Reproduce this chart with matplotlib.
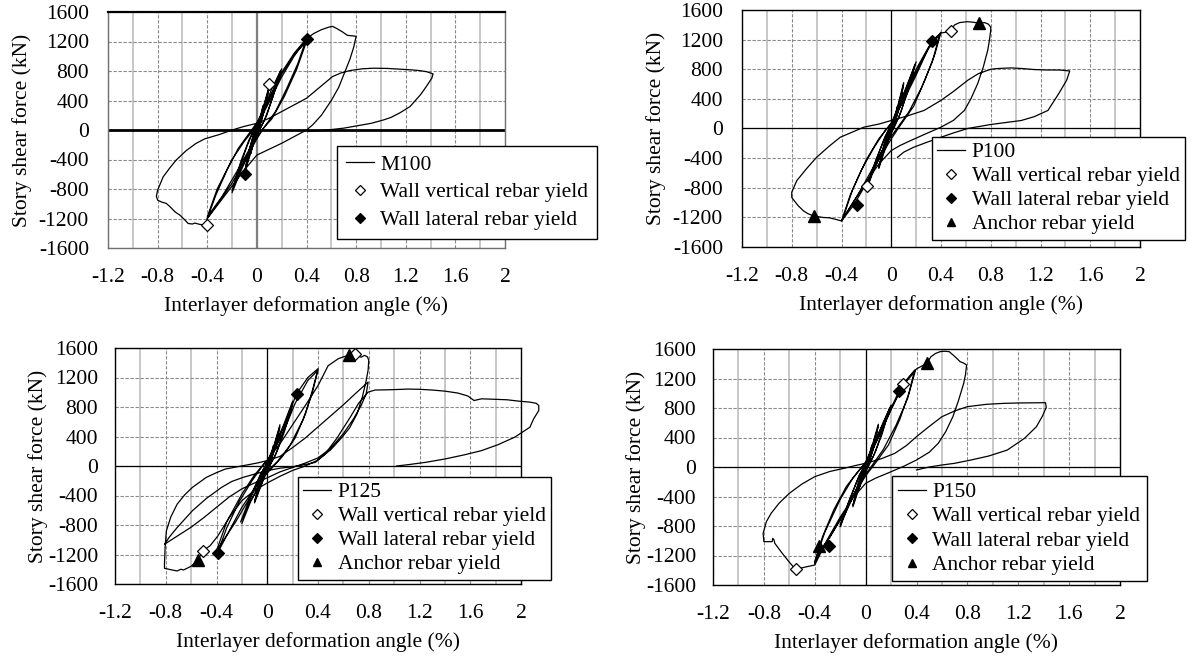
import matplotlib
matplotlib.use("Agg")
import matplotlib.pyplot as plt

plt.rcParams['font.family'] = ['Liberation Serif', 'DejaVu Serif']
plt.rcParams['axes.unicode_minus'] = False
FS = 15.5

# ---------------- data ----------------
x_ticks = [-1.2, -0.8, -0.4, 0, 0.4, 0.8, 1.2, 1.6, 2]
x_tick_labels = ["-1.2", "-0.8", "-0.4", "0", "0.4", "0.8", "1.2", "1.6", "2"]
x_minor = [-1.0, -0.6, -0.2, 0.2, 0.6, 1.0, 1.4, 1.8]
y_ticks = [-1600, -1200, -800, -400, 0, 400, 800, 1200, 1600]
y_tick_labels = ["-1600", "-1200", "-800", "-400", "0", "400", "800", "1200", "1600"]

labels = ["Wall vertical rebar yield", "Wall lateral rebar yield", "Anchor rebar yield"]
xlabel = "Interlayer deformation angle (%)"
ylabel = "Story shear force (kN)"

m100_curve = [
(0,0),(0.03,200),(0.05,330),(0.03,150),(0.01,40),(-0.02,-120),(-0.05,-320),(-0.03,-150),(-0.01,-30),
(0.03,180),(0.07,420),(0.10,600),(0.07,330),(0.03,90),(-0.02,-150),(-0.07,-420),(-0.10,-600),(-0.07,-320),(-0.03,-80),
(0.03,160),(0.07,400),(0.10,580),(0.06,260),(0.02,40),(-0.03,-190),(-0.07,-400),(-0.10,-580),(-0.06,-260),(-0.02,-30),
(0.05,250),(0.12,560),(0.20,830),(0.15,560),(0.08,200),(0.02,-10),(-0.06,-300),(-0.13,-560),(-0.20,-850),(-0.15,-560),(-0.08,-220),(-0.02,20),
(0.06,280),(0.13,540),(0.19,800),(0.13,450),(0.06,130),(0.00,-60),(-0.07,-320),(-0.14,-560),(-0.20,-820),(-0.13,-430),(-0.06,-120),(0.00,60),
(0.10,420),(0.20,780),(0.30,1040),(0.40,1240),(0.33,900),(0.24,560),(0.15,250),(0.06,40),(0.00,-120),(-0.10,-420),(-0.20,-720),(-0.30,-960),(-0.40,-1200),(-0.33,-880),(-0.24,-540),(-0.15,-250),(-0.06,-40),(0.00,100),
(0.10,420),(0.20,760),(0.30,1020),(0.40,1200),(0.32,820),(0.22,450),(0.12,150),(0.04,0),(-0.06,-260),(-0.16,-560),(-0.28,-900),(-0.40,-1180),(-0.32,-800),(-0.20,-400),(-0.10,-150),(0.00,60),
(0.10,380),(0.20,720),(0.30,1000),(0.40,1240),(0.46,1310),(0.52,1360),(0.58,1395),(0.61,1405),(0.64,1380),(0.66,1360),(0.69,1330),(0.73,1283),(0.78,1275),(0.80,1270),
(0.78,1120),(0.75,960),(0.71,790),(0.66,580),(0.60,400),(0.52,200),(0.45,70),(0.40,0),(0.30,-90),(0.20,-180),(0.10,-260),(0.00,-340),(-0.10,-540),(-0.20,-760),(-0.30,-980),(-0.40,-1200),(-0.41,-1290),
(-0.46,-1280),(-0.50,-1262),(-0.52,-1275),(-0.554,-1268),(-0.58,-1220),(-0.62,-1155),(-0.66,-1110),(-0.70,-1040),(-0.73,-996),(-0.77,-975),(-0.80,-951),(-0.81,-900),(-0.80,-815),
(-0.755,-634),(-0.70,-510),(-0.65,-407),(-0.57,-280),(-0.49,-181),(-0.42,-120),(-0.30,-60),(-0.20,0),(-0.10,50),(0.00,90),(0.10,160),(0.20,250),(0.30,340),(0.40,430),(0.50,570),(0.61,725),(0.68,775),(0.75,806),(0.85,830),(0.94,838),(1.05,835),(1.15,825),(1.24,816),(1.31,806),(1.37,790),(1.42,761),
(1.41,703),(1.37,600),(1.32,480),(1.234,317),(1.15,230),(1.08,170),(1.02,136),(0.92,90),(0.80,54),(0.70,25),(0.615,9),(0.50,-10),(0.42,-20),
]
m100_vertical = [(0.10, 625), (-0.40, -1290)]
m100_lateral = [(0.40, 1240), (-0.095, -598)]
m100_anchor = []

p100_curve = [
(0,0),(0.03,180),(0.05,300),(0.03,130),(0.01,30),(-0.02,-110),(-0.05,-280),(-0.03,-120),(-0.01,-20),
(0.04,220),(0.07,420),(0.10,620),(0.07,330),(0.03,80),(-0.02,-150),(-0.06,-330),(-0.10,-540),(-0.06,-250),(-0.02,-40),
(0.04,200),(0.07,400),(0.10,600),(0.06,250),(0.02,30),(-0.03,-180),(-0.07,-360),(-0.10,-520),(-0.06,-220),(-0.01,10),
(0.06,300),(0.13,600),(0.20,900),(0.15,620),(0.08,230),(0.02,0),(-0.06,-260),(-0.13,-500),(-0.20,-800),(-0.14,-500),(-0.07,-200),(-0.01,30),
(0.06,300),(0.13,580),(0.19,860),(0.13,480),(0.06,150),(0.00,-40),(-0.07,-300),(-0.13,-520),(-0.19,-780),(-0.12,-420),(-0.05,-110),(0.01,70),
(0.10,430),(0.20,800),(0.30,1100),(0.40,1300),(0.35,1000),(0.27,650),(0.18,300),(0.08,60),(0.00,-140),(-0.10,-420),(-0.20,-740),(-0.30,-1030),(-0.40,-1248),(-0.33,-900),(-0.24,-560),(-0.14,-260),(-0.05,-30),(0.02,110),
(0.10,400),(0.20,760),(0.30,1080),(0.39,1270),(0.33,900),(0.24,540),(0.14,220),(0.05,10),(-0.05,-220),(-0.15,-540),(-0.27,-900),(-0.39,-1220),(-0.31,-820),(-0.20,-420),(-0.10,-140),(0.00,70),
(0.10,380),(0.20,720),(0.326,1184),(0.40,1290),(0.44,1300),(0.48,1330),(0.51,1400),(0.55,1430),(0.61,1442),(0.66,1435),(0.71,1420),(0.75,1430),(0.78,1410),(0.80,1370),(0.80,1330),
(0.79,1200),(0.776,1058),(0.74,830),(0.695,606),(0.64,400),(0.588,244),(0.50,110),(0.40,18),(0.28,-70),(0.156,-163),(0.07,-230),(0.00,-298),(-0.10,-480),(-0.20,-720),(-0.30,-980),(-0.40,-1248),
(-0.45,-1225),(-0.50,-1205),(-0.545,-1202),(-0.59,-1190),(-0.625,-1180),(-0.67,-1150),(-0.706,-1112),(-0.75,-1040),(-0.80,-931),(-0.80,-860),
(-0.76,-705),(-0.68,-540),(-0.60,-389),(-0.50,-240),(-0.41,-118),(-0.30,-40),(-0.22,18),(-0.10,60),(0.00,108),(0.13,170),(0.264,244),(0.40,380),(0.50,500),(0.615,651),(0.70,740),(0.80,800),(0.857,810),(0.965,818),(1.05,810),(1.15,796),(1.25,790),(1.35,790),(1.435,777),
(1.41,651),(1.35,480),(1.26,244),(1.15,160),(1.045,108),(0.92,80),(0.80,54),(0.70,25),(0.614,0),(0.50,-60),(0.40,-118),(0.28,-190),(0.18,-253),(0.10,-320),(0.05,-389),
]
p100_vertical = [(0.48, 1320), (-0.194, -773)]
p100_lateral = [(0.326, 1184), (-0.275, -1031)]
p100_anchor = [(0.709, 1425), (-0.625, -1180)]

p125_curve = [
(0,0),(0.03,170),(0.05,280),(0.03,120),(0.01,30),(-0.02,-110),(-0.05,-260),(-0.03,-110),(-0.01,-20),
(0.04,200),(0.07,380),(0.10,560),(0.07,300),(0.03,80),(-0.02,-140),(-0.06,-320),(-0.10,-500),(-0.06,-230),(-0.02,-40),
(0.04,190),(0.07,360),(0.10,530),(0.06,230),(0.02,30),(-0.03,-170),(-0.07,-340),(-0.10,-480),(-0.06,-200),(-0.01,10),
(0.06,280),(0.13,560),(0.20,880),(0.15,580),(0.08,210),(0.02,0),(-0.06,-250),(-0.13,-480),(-0.20,-780),(-0.14,-470),(-0.07,-190),(-0.01,30),
(0.06,280),(0.13,540),(0.20,830),(0.13,440),(0.06,130),(0.00,-40),(-0.07,-290),(-0.14,-500),(-0.21,-760),(-0.13,-400),(-0.05,-100),(0.01,60),
(0.10,400),(0.231,979),(0.32,1200),(0.40,1320),(0.36,1050),(0.30,700),(0.22,380),(0.12,130),(0.03,-40),(-0.08,-250),(-0.20,-560),(-0.30,-880),(-0.39,-1174),(-0.32,-840),(-0.22,-480),(-0.12,-200),(-0.03,20),(0.03,130),
(0.12,430),(0.22,850),(0.32,1160),(0.40,1300),(0.35,960),(0.28,620),(0.18,280),(0.08,60),(-0.02,-100),(-0.12,-380),(-0.25,-760),(-0.40,-1150),(-0.32,-760),(-0.20,-380),(-0.10,-120),(0.00,80),
(0.10,300),(0.20,560),(0.30,820),(0.40,1090),(0.48,1360),(0.56,1455),(0.60,1480),(0.642,1500),(0.688,1514),(0.72,1490),(0.74,1475),(0.766,1500),(0.79,1480),(0.80,1432),
(0.795,1300),(0.78,1160),(0.75,940),(0.708,707),(0.65,520),(0.59,390),(0.50,220),(0.39,73),(0.30,0),(0.20,-60),(0.10,-140),(0.00,-230),(-0.10,-330),(-0.20,-470),(-0.30,-700),(-0.39,-950),(-0.45,-1080),(-0.506,-1151),
(-0.53,-1220),(-0.549,-1278),(-0.60,-1360),(-0.66,-1410),(-0.68,-1400),(-0.71,-1423),(-0.75,-1410),(-0.79,-1395),(-0.81,-1387),(-0.81,-1330),(-0.805,-1100),
(-0.795,-879),(-0.76,-690),(-0.71,-517),(-0.65,-390),(-0.59,-290),(-0.48,-154),(-0.40,-90),(-0.33,-41),(-0.19,5),(-0.08,40),(0.00,73),(0.10,130),(0.20,250),(0.30,380),(0.40,530),(0.50,680),(0.60,830),(0.70,990),(0.795,1138),
(0.78,980),(0.74,820),(0.68,640),(0.60,440),(0.50,240),(0.40,110),(0.30,40),(0.20,-20),(0.10,-80),(0.00,-160),(-0.10,-230),(-0.20,-310),(-0.30,-420),(-0.40,-560),(-0.50,-700),(-0.60,-830),(-0.70,-940),(-0.81,-1061),
(-0.77,-960),(-0.71,-834),(-0.65,-720),(-0.59,-607),(-0.48,-440),(-0.36,-290),(-0.28,-210),(-0.19,-154),(-0.10,-110),(0.00,-63),(0.10,-30),(0.20,-10),(0.30,20),(0.38,50),(0.45,150),(0.55,380),(0.65,650),(0.72,850),(0.795,1002),
(0.85,1030),(0.97,1034),(1.05,1040),(1.11,1043),(1.20,1040),(1.30,1030),(1.40,1015),(1.50,990),(1.58,950),(1.63,888),(1.66,900),(1.69,911),(1.78,905),(1.89,898),(1.98,880),(2.07,866),(2.12,850),(2.14,820),(2.14,752),
(2.10,640),(2.07,526),(1.95,390),(1.82,290),(1.69,209),(1.55,150),(1.40,95),(1.25,50),(1.11,18),(1.02,0),
]
p125_vertical = [(0.688, 1514), (-0.506, -1151)]
p125_lateral = [(0.231, 979), (-0.39, -1174)]
p125_anchor = [(0.642, 1500), (-0.549, -1278)]

p150_curve = [
(0,0),(0.03,180),(0.05,300),(0.03,130),(0.01,30),(-0.02,-110),(-0.05,-280),(-0.03,-120),(-0.01,-20),
(0.04,210),(0.07,400),(0.10,580),(0.07,310),(0.03,80),(-0.02,-150),(-0.06,-330),(-0.10,-540),(-0.06,-250),(-0.02,-40),
(0.04,200),(0.07,380),(0.10,560),(0.06,240),(0.02,30),(-0.03,-180),(-0.07,-360),(-0.10,-520),(-0.06,-220),(-0.01,10),
(0.06,290),(0.13,570),(0.20,840),(0.15,580),(0.08,220),(0.02,0),(-0.06,-260),(-0.13,-500),(-0.20,-810),(-0.14,-500),(-0.07,-200),(-0.01,30),
(0.06,290),(0.13,560),(0.19,800),(0.13,450),(0.06,140),(0.00,-40),(-0.07,-300),(-0.13,-520),(-0.20,-780),(-0.12,-420),(-0.05,-110),(0.01,60),
(0.10,420),(0.20,800),(0.263,1030),(0.33,1200),(0.386,1315),(0.34,1000),(0.27,650),(0.18,300),(0.08,60),(0.00,-120),(-0.10,-400),(-0.20,-720),(-0.30,-1000),(-0.366,-1140),(-0.40,-1306),(-0.34,-950),(-0.25,-580),(-0.15,-260),(-0.05,-40),(0.02,100),
(0.10,400),(0.20,780),(0.29,1100),(0.39,1300),(0.33,930),(0.24,570),(0.14,240),(0.05,20),(-0.05,-220),(-0.15,-560),(-0.27,-920),(-0.40,-1280),(-0.32,-880),(-0.20,-440),(-0.10,-150),(0.00,60),
(0.10,400),(0.20,780),(0.30,1130),(0.40,1330),(0.48,1405),(0.514,1496),(0.55,1540),(0.586,1564),(0.62,1570),(0.657,1564),(0.68,1530),(0.70,1500),(0.743,1428),(0.77,1410),(0.794,1383),
(0.785,1250),(0.771,1134),(0.73,900),(0.686,682),(0.63,480),(0.571,321),(0.50,200),(0.40,95),(0.30,10),(0.17,-86),(0.08,-150),(0.00,-221),(-0.10,-420),(-0.20,-680),(-0.30,-980),(-0.40,-1329),
(-0.47,-1355),(-0.551,-1388),(-0.60,-1290),(-0.66,-1160),(-0.714,-1035),(-0.72,-990),(-0.73,-967),(-0.735,-1012),(-0.80,-1012),(-0.806,-899),
(-0.78,-740),(-0.743,-628),(-0.68,-490),(-0.60,-357),(-0.50,-230),(-0.40,-131),(-0.28,-60),(-0.17,-18),(-0.08,20),(0.00,50),(0.12,110),(0.229,185),(0.32,290),(0.40,411),(0.50,550),(0.60,682),(0.70,760),(0.80,818),(0.95,850),(1.086,863),(1.20,868),(1.30,870),(1.414,872),(1.42,809),
(1.39,690),(1.343,547),(1.25,390),(1.114,230),(0.97,150),(0.829,95),(0.70,50),(0.60,27),(0.50,0),(0.40,-40),
]
p150_vertical = [(0.29, 1125), (-0.551, -1388)]
p150_lateral = [(0.263, 1030), (-0.286, -1071)]
p150_anchor = [(0.48, 1405), (-0.366, -1071)]

# ---------------- layout (pixels) ----------------
W, H = 1193, 657
fig = plt.figure(figsize=(W / 100, H / 100), dpi=100)

panels = [
    # name, curve, vertical, lateral, anchor, axes box (L,T,R,B), legend (left, top), ylabel offset, ytick pad, legend spacing, legend pad, first-style
    ("M100", m100_curve, m100_vertical, m100_lateral, m100_anchor, (108, 12, 505, 248), (337, 146), 86, 13.7, 0.36, 0.4, True),
    ("P100", p100_curve, p100_vertical, p100_lateral, p100_anchor, (742, 10, 1140, 247), (932, 137), 86, 13.7, 0.18, 0.25, False),
    ("P125", p125_curve, p125_vertical, p125_lateral, p125_anchor, (115, 348, 521, 584), (298, 477), 77, 12.2, 0.18, 0.25, False),
    ("P150", p150_curve, p150_vertical, p150_lateral, p150_anchor, (713, 349, 1120, 585), (892, 476), 77, 12.2, 0.2, 0.28, False),
]

for (name, curve, vert, lat, anch, box, leg_xy, ylo, ypad, lspace, lpad, first) in panels:
    L, T, R, B = box
    ax = fig.add_axes([L / W, 1 - B / H, (R - L) / W, (B - T) / H])
    ax.set_xlim(-1.2, 2.0)
    ax.set_ylim(-1600, 1600)
    ax.set_xticks(x_ticks)
    ax.set_xticklabels(x_tick_labels)
    ax.set_xticks(x_minor, minor=True)
    ax.set_yticks(y_ticks)
    ax.set_yticklabels(y_tick_labels)
    ax.tick_params(axis='both', which='both', length=0, labelsize=FS)
    ax.tick_params(axis='x', pad=14.5)
    ax.tick_params(axis='y', pad=ypad)
    ax.set_axisbelow(True)
    ax.grid(which='major', axis='x', color='#8a8a8a', ls=(0, (3, 1.5)), lw=0.8)
    ax.grid(which='minor', axis='x', color='#c8c8c8', ls='-', lw=1.4)
    ax.grid(which='major', axis='y', color='#8a8a8a', ls=(0, (3, 1.5)), lw=0.8)

    if first:
        ax.axvline(0, color='#808080', lw=1.6, zorder=1.5)
        ax.axhline(0, color='black', lw=2.0, zorder=1.5)
        for s in ('left', 'right', 'bottom'):
            ax.spines[s].set_color('#707070')
            ax.spines[s].set_linewidth(1.0)
        ax.spines['top'].set_color('black')
        ax.spines['top'].set_linewidth(1.6)
    else:
        ax.axvline(0, color='black', lw=0.9, zorder=1.5)
        ax.axhline(0, color='black', lw=0.9, zorder=1.5)
        for s in ax.spines.values():
            s.set_color('black')
            s.set_linewidth(1.0)

    xs = [p[0] for p in curve]
    ys = [p[1] for p in curve]
    ax.plot(xs, ys, color='black', lw=0.9, label=name, zorder=3, clip_on=False)

    ax.plot([p[0] for p in vert], [p[1] for p in vert], ls='none', marker='D', ms=5.8,
            mfc='white', mec='black', mew=0.9, label=labels[0], zorder=4, clip_on=False)
    ax.plot([p[0] for p in lat], [p[1] for p in lat], ls='none', marker='D', ms=5.8,
            mfc='black', mec='black', mew=0.9, label=labels[1], zorder=4, clip_on=False)
    if anch:
        ax.plot([p[0] for p in anch], [p[1] for p in anch], ls='none', marker='^', ms=8,
                mfc='black', mec='black', label=labels[2], zorder=4, clip_on=False)

    ax.set_xlabel(xlabel, fontsize=FS, va='center')
    ax.xaxis.set_label_coords(0.5, -58 / (B - T))
    ax.set_ylabel(ylabel, fontsize=FS, va='center')
    ax.yaxis.set_label_coords(-ylo / (R - L), 0.5)

    leg = ax.legend(loc='upper left', bbox_to_anchor=(leg_xy[0] / W, 1 - leg_xy[1] / H),
                    bbox_transform=fig.transFigure, borderaxespad=0, fontsize=FS,
                    handlelength=1.3, handletextpad=0.3, labelspacing=lspace, borderpad=lpad,
                    markerscale=0.8, fancybox=False, framealpha=1, edgecolor='black')
    leg.get_frame().set_linewidth(1.0)
    leg.set_zorder(10)

fig.savefig("out.png", dpi=100)
